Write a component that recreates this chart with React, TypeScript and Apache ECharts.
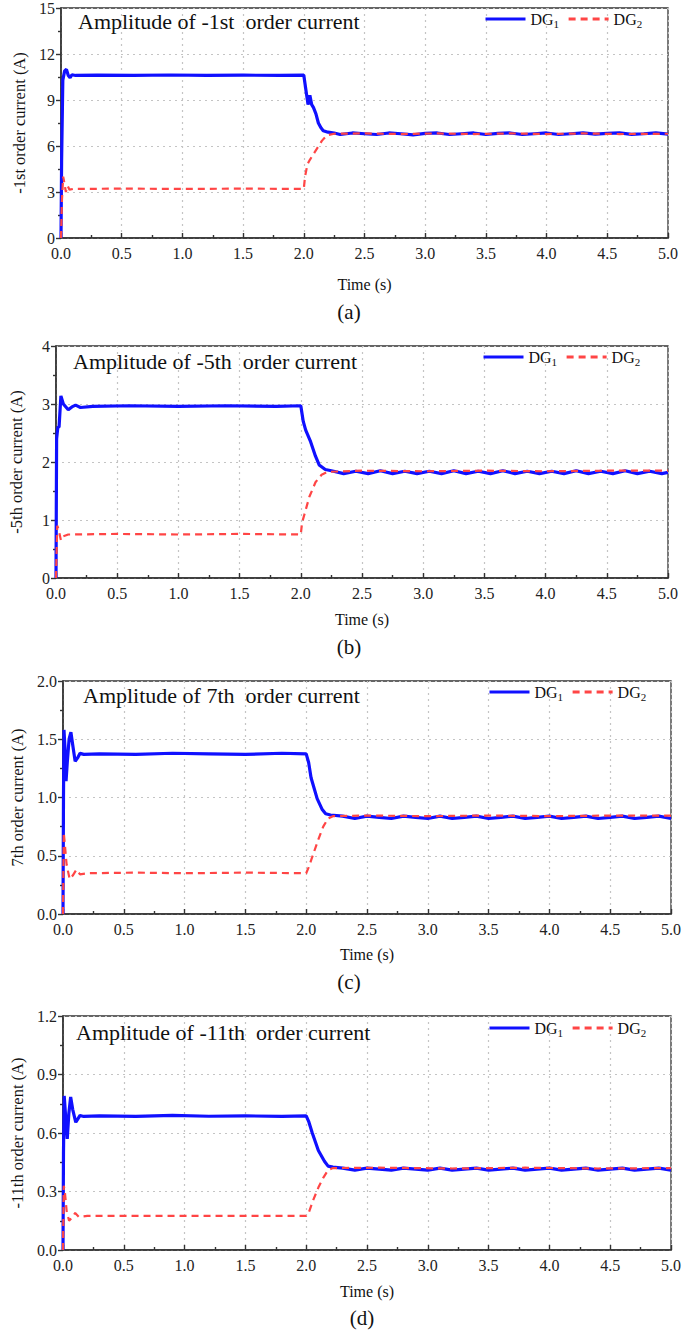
import React, { useEffect, useRef } from "react";
import * as echarts from "echarts";

const timeTicks = [0, 0.5, 1, 1.5, 2, 2.5, 3, 3.5, 4, 4.5, 5];
const panelTitles = [
  "Amplitude of -1st  order current",
  "Amplitude of -5th  order current",
  "Amplitude of 7th  order current",
  "Amplitude of -11th  order current",
];
const yNames = [
  "-1st order current (A)",
  "-5th order current (A)",
  "7th order current (A)",
  "-11th order current (A)",
];
const captions = ["(a)", "(b)", "(c)", "(d)"];
const yMax = [15, 4, 2, 1.2];
const yStep = [3, 1, 0.5, 0.3];
const yDecimals = [0, 0, 1, 1];

const dg1A = [
  [0, 0], [0.005, 5], [0.015, 10.3], [0.03, 10.9], [0.045, 11.0], [0.06, 10.6], [0.075, 10.45],
  [0.09, 10.65], [0.12, 10.6], [0.3, 10.62], [0.6, 10.6], [0.9, 10.63], [1.2, 10.6], [1.5, 10.62],
  [1.8, 10.6], [2.0, 10.62], [2.02, 9.5], [2.035, 8.7], [2.05, 9.3], [2.065, 8.7], [2.08, 8.5],
  [2.1, 8.1], [2.12, 7.5], [2.14, 7.2], [2.16, 7.0], [2.2, 6.9], [2.25, 6.85], [2.3, 6.75],
  [2.4, 6.85], [2.5, 6.8], [2.6, 6.75], [2.7, 6.85], [2.8, 6.8], [2.9, 6.72], [3.0, 6.82],
  [3.1, 6.85], [3.2, 6.75], [3.3, 6.8], [3.4, 6.85], [3.5, 6.75], [3.6, 6.82], [3.7, 6.85],
  [3.8, 6.75], [3.9, 6.8], [4.0, 6.85], [4.1, 6.75], [4.2, 6.8], [4.3, 6.85], [4.4, 6.78],
  [4.5, 6.82], [4.6, 6.86], [4.7, 6.76], [4.8, 6.8], [4.9, 6.85], [5.0, 6.78],
];
const dg2A = [
  [0, 0], [0.008, 2.5], [0.018, 4.0], [0.03, 3.5], [0.04, 3.0], [0.055, 3.4], [0.07, 3.15],
  [0.1, 3.2], [0.5, 3.22], [1.0, 3.2], [1.5, 3.22], [2.0, 3.2], [2.01, 4.0], [2.03, 4.8],
  [2.05, 5.1], [2.09, 5.6], [2.15, 6.35], [2.19, 6.7], [2.25, 6.8], [2.5, 6.82], [2.8, 6.78],
  [3.1, 6.82], [3.4, 6.78], [3.7, 6.82], [4.0, 6.78], [4.3, 6.82], [4.6, 6.78], [5.0, 6.8],
];
const dg1B = [
  [0, 0], [0.005, 2.4], [0.015, 2.6], [0.025, 2.6], [0.04, 3.14], [0.06, 3.0], [0.1, 2.9],
  [0.13, 2.95], [0.16, 2.98], [0.2, 2.94], [0.3, 2.96], [0.6, 2.97], [1.0, 2.96], [1.4, 2.97],
  [1.8, 2.96], [2.0, 2.97], [2.02, 2.7], [2.04, 2.55], [2.08, 2.35], [2.12, 2.1], [2.15, 1.95],
  [2.2, 1.87], [2.25, 1.85], [2.35, 1.8], [2.45, 1.84], [2.55, 1.8], [2.65, 1.85], [2.75, 1.8],
  [2.85, 1.84], [2.95, 1.8], [3.05, 1.84], [3.15, 1.8], [3.25, 1.85], [3.35, 1.8], [3.45, 1.84],
  [3.55, 1.8], [3.65, 1.85], [3.75, 1.8], [3.85, 1.84], [3.95, 1.8], [4.05, 1.84], [4.15, 1.8],
  [4.25, 1.85], [4.35, 1.8], [4.45, 1.84], [4.55, 1.8], [4.65, 1.85], [4.75, 1.8], [4.85, 1.84],
  [4.95, 1.8], [5.0, 1.82],
];
const dg2B = [
  [0, 0], [0.01, 0.9], [0.02, 0.85], [0.04, 0.65], [0.06, 0.72], [0.1, 0.75], [0.5, 0.76],
  [1.0, 0.75], [1.5, 0.76], [2.0, 0.75], [2.01, 0.95], [2.03, 1.1], [2.07, 1.4], [2.12, 1.65],
  [2.17, 1.78], [2.22, 1.83], [2.5, 1.85], [3.0, 1.84], [3.5, 1.85], [4.0, 1.84], [4.5, 1.85],
  [5.0, 1.85],
];
const dg1C = [
  [0, 0], [0.004, 1.0], [0.008, 1.58], [0.015, 1.45], [0.025, 1.14], [0.035, 1.3], [0.05, 1.5],
  [0.065, 1.56], [0.08, 1.45], [0.1, 1.31], [0.12, 1.34], [0.14, 1.38], [0.17, 1.37], [0.3, 1.375],
  [0.6, 1.37], [0.9, 1.38], [1.2, 1.375], [1.5, 1.37], [1.8, 1.38], [2.0, 1.375], [2.02, 1.3],
  [2.04, 1.17], [2.09, 0.99], [2.13, 0.9], [2.16, 0.86], [2.2, 0.85], [2.3, 0.84], [2.4, 0.82],
  [2.5, 0.84], [2.6, 0.83], [2.7, 0.82], [2.8, 0.84], [2.9, 0.83], [3.0, 0.82], [3.1, 0.84],
  [3.2, 0.82], [3.3, 0.83], [3.4, 0.84], [3.5, 0.82], [3.6, 0.83], [3.7, 0.84], [3.8, 0.82],
  [3.9, 0.83], [4.0, 0.84], [4.1, 0.82], [4.2, 0.83], [4.3, 0.84], [4.4, 0.82], [4.5, 0.83],
  [4.6, 0.84], [4.7, 0.82], [4.8, 0.83], [4.9, 0.84], [5.0, 0.82],
];
const dg2C = [
  [0, 0], [0.006, 0.7], [0.015, 0.6], [0.03, 0.42], [0.055, 0.3], [0.08, 0.33], [0.11, 0.38],
  [0.14, 0.34], [0.2, 0.35], [0.6, 0.355], [1.0, 0.35], [1.5, 0.355], [2.0, 0.35], [2.02, 0.4],
  [2.06, 0.52], [2.1, 0.64], [2.14, 0.75], [2.18, 0.82], [2.22, 0.84], [2.5, 0.845], [3.0, 0.84],
  [3.5, 0.845], [4.0, 0.84], [4.5, 0.845], [5.0, 0.845],
];
const dg1D = [
  [0, 0], [0.004, 0.5], [0.01, 0.79], [0.02, 0.7], [0.035, 0.57], [0.048, 0.7], [0.063, 0.785],
  [0.08, 0.72], [0.105, 0.655], [0.12, 0.67], [0.14, 0.69], [0.17, 0.685], [0.3, 0.688],
  [0.6, 0.685], [0.9, 0.69], [1.2, 0.686], [1.5, 0.688], [1.8, 0.685], [2.0, 0.688], [2.02, 0.66],
  [2.05, 0.6], [2.1, 0.51], [2.15, 0.455], [2.18, 0.43], [2.22, 0.425], [2.3, 0.42], [2.4, 0.41],
  [2.5, 0.42], [2.6, 0.415], [2.7, 0.41], [2.8, 0.42], [2.9, 0.415], [3.0, 0.41], [3.1, 0.42],
  [3.2, 0.41], [3.3, 0.415], [3.4, 0.42], [3.5, 0.41], [3.6, 0.415], [3.7, 0.42], [3.8, 0.41],
  [3.9, 0.415], [4.0, 0.42], [4.1, 0.41], [4.2, 0.415], [4.3, 0.42], [4.4, 0.41], [4.5, 0.415],
  [4.6, 0.42], [4.7, 0.41], [4.8, 0.415], [4.9, 0.42], [5.0, 0.41],
];
const dg2D = [
  [0, 0], [0.006, 0.33], [0.015, 0.3], [0.03, 0.2], [0.05, 0.15], [0.08, 0.17], [0.1, 0.19],
  [0.13, 0.17], [0.2, 0.175], [1.0, 0.175], [2.0, 0.175], [2.02, 0.19], [2.06, 0.26], [2.1, 0.32],
  [2.14, 0.37], [2.18, 0.41], [2.22, 0.42], [2.6, 0.422], [3.2, 0.418], [3.8, 0.422], [4.4, 0.418],
  [5.0, 0.42],
];
const dg1Sets = [dg1A, dg1B, dg1C, dg1D];
const dg2Sets = [dg2A, dg2B, dg2C, dg2D];

const SERIF = "'Liberation Serif', 'Times New Roman', serif";
const BLUE = "#1010ff";
const RED = "#ff4545";

// layout (pixels)
const grids = [
  { left: 61, top: 6, width: 607, height: 232 },
  { left: 56, top: 346, width: 612, height: 232 },
  { left: 63, top: 681, width: 608, height: 233 },
  { left: 63, top: 1016, width: 608, height: 234 },
];
const yNameGaps = [29, 31, 37, 34];
const xNameGaps = [38, 33, 32, 33];
const titlePos = [
  { left: 78, top: 10 },
  { left: 73, top: 350 },
  { left: 83, top: 684 },
  { left: 76, top: 1021 },
];
const legendPos = [
  { left: 484, top: 11 },
  { left: 482, top: 349 },
  { left: 488, top: 684 },
  { left: 488, top: 1020 },
];
const captionPos = [
  { x: 349, y: 312 },
  { x: 349, y: 647 },
  { x: 349, y: 982 },
  { x: 362, y: 1318 },
];

export default function App() {
  const ref = useRef<HTMLDivElement>(null);
  useEffect(() => {
    if (!ref.current) return;
    const chart = echarts.init(ref.current, null, { renderer: "svg" });
    const axisCol = "#333";
    const option: any = {
      animation: false,
      backgroundColor: "#ffffff",
      textStyle: { fontFamily: SERIF },
      title: panelTitles.map((t, i) => ({
        text: t,
        left: titlePos[i].left,
        top: titlePos[i].top,
        padding: 0,
        textStyle: { fontFamily: SERIF, fontSize: 22, fontWeight: "normal", color: "#111" },
      })),
      legend: legendPos.map((p) => ({
        data: ["DG1", "DG2"],
        left: p.left,
        top: p.top,
        padding: 0,
        itemWidth: 40,
        itemHeight: 14,
        itemGap: 8,
        selectedMode: false,
        itemStyle: { opacity: 0, borderWidth: 0 },
        lineStyle: { width: 3 },
        formatter: (n: string) => `{m|DG}{s|${n.slice(2)}}`,
        textStyle: {
          fontFamily: SERIF,
          rich: {
            m: { fontFamily: SERIF, fontSize: 16, color: "#111" },
            s: { fontFamily: SERIF, fontSize: 11, color: "#111", padding: [9, 0, 0, 0] },
          },
        },
      })),
      grid: grids.map((g) => ({
        left: g.left,
        top: g.top,
        width: g.width,
        height: g.height,
        show: true,
        borderColor: axisCol,
        borderWidth: 1.3,
        backgroundColor: "transparent",
      })),
      xAxis: grids.map((_, i) => ({
        type: "value",
        gridIndex: i,
        min: timeTicks[0],
        max: timeTicks[timeTicks.length - 1],
        interval: 0.5,
        name: "Time (s)",
        nameLocation: "middle",
        nameGap: xNameGaps[i],
        nameTextStyle: { fontFamily: SERIF, fontSize: 16, color: "#111" },
        axisLine: { onZero: false, lineStyle: { color: axisCol, width: 1.6 } },
        axisTick: { inside: true, length: 5, lineStyle: { color: axisCol, width: 1.4 } },
        minorTick: { show: true, splitNumber: 2, length: 3, lineStyle: { color: axisCol, width: 1.4 } },
        axisLabel: {
          fontFamily: SERIF,
          fontSize: 16,
          color: "#222",
          margin: 7,
          formatter: (v: number) => v.toFixed(1),
        },
        splitLine: { show: true, lineStyle: { color: "#c4c4c4", type: [2, 4], width: 1.2 } },
      })),
      yAxis: grids.map((_, i) => ({
        type: "value",
        gridIndex: i,
        min: 0,
        max: yMax[i],
        interval: yStep[i],
        name: yNames[i],
        nameLocation: "middle",
        nameGap: yNameGaps[i],
        nameTextStyle: { fontFamily: SERIF, fontSize: 16.5, color: "#111" },
        axisLine: { show: true, onZero: false, lineStyle: { color: axisCol, width: 1.6 } },
        axisTick: { show: true, inside: false, length: 5, lineStyle: { color: axisCol, width: 1.4 } },
        minorTick: { show: true, splitNumber: 2, length: 3, lineStyle: { color: axisCol, width: 1.4 } },
        axisLabel: {
          fontFamily: SERIF,
          fontSize: 16,
          color: "#222",
          margin: 6,
          formatter: (v: number) => v.toFixed(yDecimals[i]),
        },
        splitLine: { show: true, lineStyle: { color: "#c4c4c4", type: [2, 4], width: 1.2 } },
      })),
      series: [
        ...dg1Sets.map((d, i) => ({
          name: "DG1",
          type: "line",
          xAxisIndex: i,
          yAxisIndex: i,
          data: d,
          symbol: "none",
          showSymbol: false,
          itemStyle: { color: BLUE },
          lineStyle: { color: BLUE, width: 3.2 },
        })),
        ...dg2Sets.map((d, i) => ({
          name: "DG2",
          type: "line",
          xAxisIndex: i,
          yAxisIndex: i,
          data: d,
          symbol: "none",
          showSymbol: false,
          itemStyle: { color: RED },
          lineStyle: { color: RED, width: 2.2, type: [7, 5] },
        })),
      ],
      graphic: captions.map((c, i) => ({
        type: "text",
        x: captionPos[i].x,
        y: captionPos[i].y,
        style: {
          text: c,
          fontFamily: SERIF,
          fontSize: 21,
          fill: "#111",
          textAlign: "center",
          textVerticalAlign: "middle",
        },
      })),
    };
    chart.setOption(option);
    return () => chart.dispose();
  }, []);
  return (
    <div
      ref={ref}
      style={{ position: "absolute", left: 0, top: 0, width: 697, height: 1331 }}
    />
  );
}
